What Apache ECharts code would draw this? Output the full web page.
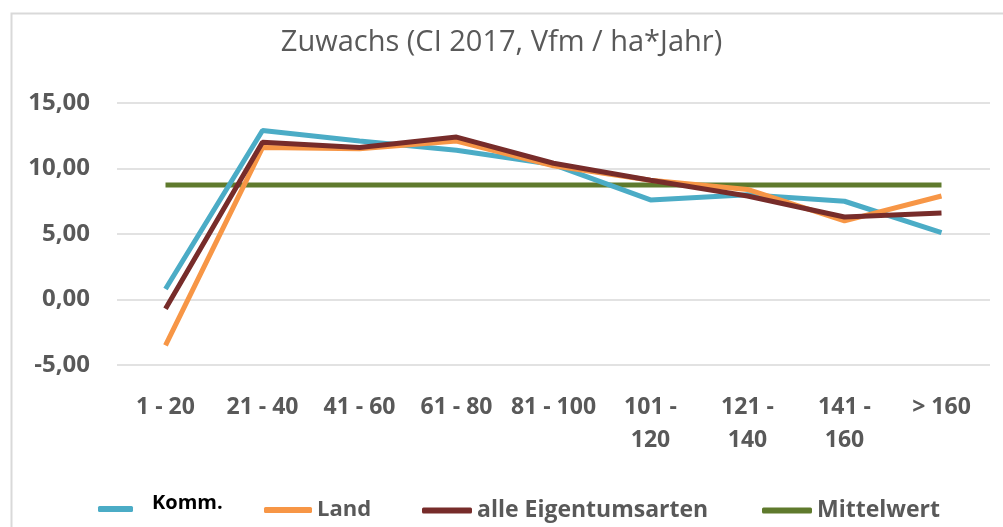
<!DOCTYPE html>
<html>
<head>
<meta charset="utf-8">
<script src="https://cdn.jsdelivr.net/npm/echarts@6/dist/echarts.min.js"></script>
<style>
html,body{margin:0;padding:0;background:#fff;}
#c{width:1003px;height:527px;}
</style>
</head>
<body>
<div id="c"></div>
<script>
const categories = ["1 - 20", "21 - 40", "41 - 60", "61 - 80", "81 - 100", "101 -\n120", "121 -\n140", "141 -\n160", "> 160"];
const komm = [0.8, 12.9, 12.1, 11.4, 10.3, 7.6, 8.0, 7.5, 5.1];
const land = [-3.5, 11.6, 11.5, 12.1, 10.2, 9.1, 8.4, 6.0, 7.9];
const alle = [-0.7, 12.0, 11.6, 12.4, 10.4, 9.1, 7.9, 6.3, 6.6];
const mittelwert = [8.75, 8.75, 8.75, 8.75, 8.75, 8.75, 8.75, 8.75, 8.75];
const yMin = -5, yMax = 15, yStep = 5;

const FONT = "'Open Sans', sans-serif";
const GREY = '#595959';
const colors = {komm: '#4bacc6', land: '#f79646', alle: '#772c2a', mittel: '#5f7a2d'};

function legendAt(name, left, width, extra) {
  return Object.assign({
    data: [name],
    left: left,
    top: 499,
    padding: 0,
    icon: 'roundRect',
    itemWidth: width,
    itemHeight: 6,
    itemGap: 0,
    textStyle: {fontFamily: FONT, fontSize: 22, fontWeight: 'bold', color: GREY}
  }, extra || {});
}

const chart = echarts.init(document.getElementById('c'), null, {renderer: 'canvas'});
chart.setOption({
  animation: false,
  backgroundColor: '#fff',
  title: {
    text: 'Zuwachs (CI 2017, Vfm / ha*Jahr)',
    left: 'center',
    top: 23,
    textStyle: {fontFamily: FONT, fontSize: 29, fontWeight: 'normal', color: GREY}
  },
  graphic: [{
    type: 'rect', left: 9, top: 11, shape: {width: 1010, height: 540},
    style: {fill: 'none', stroke: '#d9d9d9', lineWidth: 2}, silent: true
  }],
  grid: {left: 117, right: 13, top: 103, bottom: 162},
  legend: [
    legendAt('Komm.', 98, 35, {
      top: 493,
      formatter: '{k|Komm.}',
      textStyle: {rich: {k: {fontFamily: FONT, fontSize: 20, fontWeight: 'bold', color: '#000', padding: [0, 0, 12, 14]}}}
    }),
    legendAt('Land', 264, 48),
    legendAt('alle Eigentumsarten', 422, 50, {textStyle: {fontFamily: FONT, fontSize: 23, fontWeight: 'bold', color: GREY}}),
    legendAt('Mittelwert', 762, 50, {textStyle: {fontFamily: FONT, fontSize: 23, fontWeight: 'bold', color: GREY}})
  ],
  xAxis: {
    type: 'category',
    data: categories,
    boundaryGap: true,
    axisLine: {show: false},
    axisTick: {show: false},
    axisLabel: {fontFamily: FONT, fontSize: 23, fontWeight: 'bold', color: GREY, margin: 26, lineHeight: 33, interval: 0}
  },
  yAxis: {
    type: 'value',
    min: yMin, max: yMax, interval: yStep,
    axisLine: {show: false},
    axisTick: {show: false},
    splitLine: {lineStyle: {color: '#d9d9d9', width: 1.5}},
    axisLabel: {
      fontFamily: FONT, fontSize: 24, fontWeight: 'bold', color: GREY, margin: 27,
      formatter: v => v.toFixed(2).replace('.', ',')
    }
  },
  series: [
    {name: 'Komm.', type: 'line', data: komm, symbol: 'none', color: colors.komm, lineStyle: {width: 5, color: colors.komm}, z: 3},
    {name: 'Land', type: 'line', data: land, symbol: 'none', color: colors.land, lineStyle: {width: 5, color: colors.land}, z: 4},
    {name: 'alle Eigentumsarten', type: 'line', data: alle, symbol: 'none', color: colors.alle, lineStyle: {width: 5, color: colors.alle}, z: 5},
    {name: 'Mittelwert', type: 'line', data: mittelwert, symbol: 'none', color: colors.mittel, lineStyle: {width: 5, color: colors.mittel}, z: 2}
  ]
});
</script>
</body>
</html>
